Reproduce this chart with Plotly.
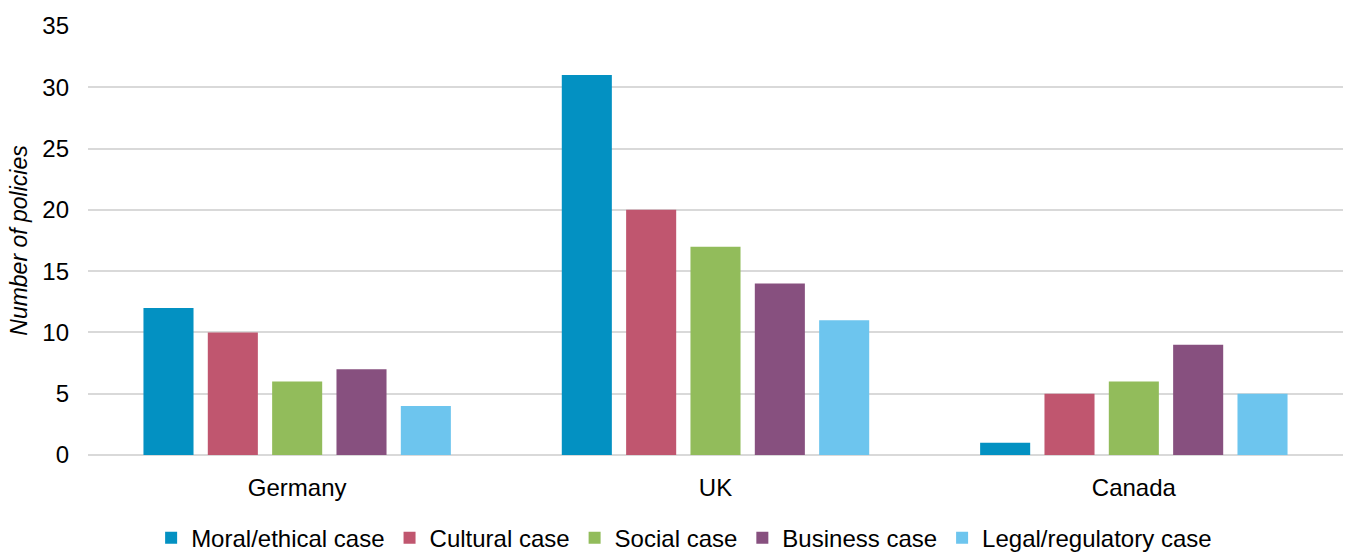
import plotly.graph_objects as go

countries = ["Germany", "UK", "Canada"]
series_names = ["Moral/ethical case", "Cultural case", "Social case", "Business case", "Legal/regulatory case"]
moral = [12, 31, 1]
cultural = [10, 20, 5]
social = [6, 17, 6]
business = [7, 14, 9]
legal = [4, 11, 5]
y_ticks = [0, 5, 10, 15, 20, 25, 30, 35]

values = [moral, cultural, social, business, legal]
colors = ["#0391C2", "#C0566F", "#92BC5B", "#87507F", "#6DC5EE"]

fig = go.Figure()
for name, vals, col in zip(series_names, values, colors):
    fig.add_trace(go.Bar(x=countries, y=vals, name=name,
                         marker=dict(color=col, line=dict(width=0))))

font_family = "Liberation Sans, Arial, sans-serif"
fig.update_layout(
    width=1346, height=552,
    margin=dict(l=88, r=3, t=26, b=97),
    paper_bgcolor="white", plot_bgcolor="white",
    barmode="group", bargap=0.231, bargroupgap=0.222,
    font=dict(family=font_family, size=24, color="#000000"),
    showlegend=True,
    legend=dict(orientation="h", x=0.475, xanchor="center",
                yref="container", y=0.025, yanchor="middle",
                font=dict(size=24), itemwidth=30, traceorder="normal"),
    xaxis=dict(showgrid=False, showline=False, ticks="", tickfont=dict(size=24),
               ticklabelstandoff=16, automargin=False),
    yaxis=dict(range=[0, 35], tickvals=y_ticks, showgrid=True, gridcolor="#D9D9D9",
               gridwidth=1.5, zeroline=True, zerolinecolor="#D9D9D9", zerolinewidth=1.5,
               showline=False, ticks="", tickfont=dict(size=24), ticklabelstandoff=18,
               automargin=False,
               title=dict(text="<i>Number of policies</i>", font=dict(size=23), standoff=8)),
)

fig.write_html("out.html", config={"responsive": False, "displayModeBar": False},
               post_script="document.body.style.margin='0';document.body.style.overflow='hidden';")
